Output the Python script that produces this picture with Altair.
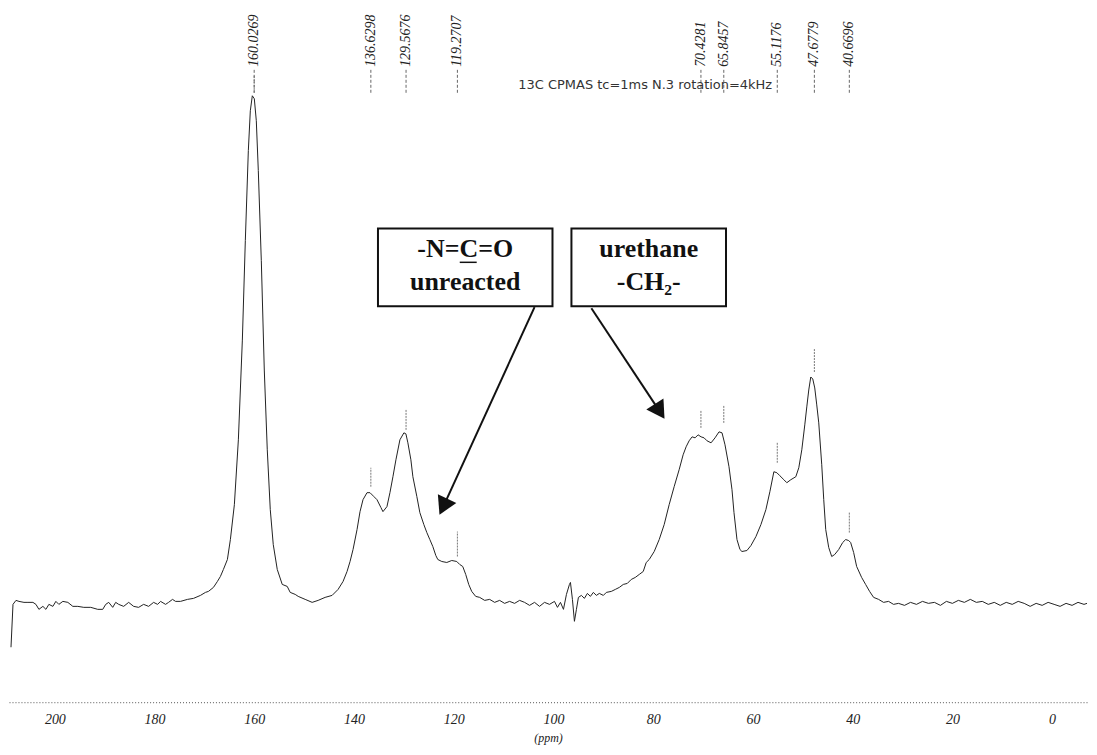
import altair as alt
import pandas as pd

# ---- spectrum trace (chemical shift in ppm, intensity in arbitrary units) ----
ppm = [208.8, 208.4, 207.8, 207.2, 206.2, 205.4, 204.4, 203.8, 203.2, 202.4, 201.8, 201.2, 200.4, 199.8, 199.2,
       198.4, 197.4, 196.4, 195.4, 194.2, 192.8, 191.4, 190.4, 189.8, 189.2, 188.4, 187.8, 187.2, 186.2, 185.2,
       184.2, 183.2, 182.2, 181.2, 180.2, 179.4, 178.8, 177.8, 177.2, 176.4, 175.8, 174.8, 173.4, 172.2, 170.8,
       169.8, 169.2, 168.2, 167.4, 166.8, 166.2, 165.4, 164.8, 164.0, 163.2, 162.4, 161.8, 161.2, 160.8, 160.4,
       160.0, 159.6, 159.2, 158.6, 158.0, 157.4, 156.8, 156.2, 155.4, 154.4, 153.4, 152.8, 151.8, 151.2, 149.8,
       148.4, 147.2, 145.8, 144.4, 143.2, 142.2, 141.4, 140.8, 140.2, 139.4, 138.8, 138.2, 137.4, 136.8, 136.0,
       135.4, 134.6, 134.2, 133.4, 132.8, 132.2, 131.6, 130.8, 130.0, 129.6, 129.2, 128.6, 128.2, 127.4, 126.8,
       126.0, 125.4, 124.8, 124.2, 123.6, 123.2, 122.4, 121.4, 120.4, 119.4, 118.8, 118.2, 117.6, 117.0, 116.4,
       115.6, 114.8, 113.8, 112.8, 111.8, 110.8, 109.8, 108.8, 107.8, 106.8, 105.8, 104.8, 103.8, 102.8, 101.8,
       100.8, 99.8, 99.2, 98.6, 98.0, 97.4, 96.8, 96.6, 96.2, 95.8, 95.4, 95.0, 94.4, 93.8, 93.2,
       92.6, 92.0, 91.4, 90.8, 90.0, 89.4, 88.4, 87.6, 86.8, 86.0, 85.2, 84.4, 83.6, 82.8, 82.0,
       81.4, 80.8, 79.8, 78.8, 77.8, 76.8, 75.8, 74.8, 74.0, 73.4, 72.8, 72.2, 71.6, 71.0, 70.4,
       69.8, 69.2, 68.4, 67.6, 66.8, 66.2, 65.6, 64.8, 64.2, 63.8, 63.2, 62.6, 62.2, 61.2, 60.4,
       59.4, 58.4, 57.4, 56.6, 55.8, 55.2, 54.6, 53.8, 53.2, 52.4, 51.4, 50.8, 50.2, 49.6, 49.2,
       48.8, 48.4, 48.0, 47.6, 47.2, 46.8, 46.2, 45.8, 45.4, 44.8, 44.2, 43.6, 42.8, 42.0, 41.4,
       40.8, 40.4, 39.8, 39.2, 38.2, 37.4, 36.6, 35.8, 34.8, 33.8, 32.8, 31.8, 30.8, 29.6, 28.4,
       27.2, 26.0, 24.8, 23.6, 22.4, 21.2, 20.0, 18.8, 17.6, 16.4, 15.2, 14.0, 12.8, 11.6, 10.4,
       9.2, 8.0, 6.8, 5.6, 4.4, 3.2, 2.0, 0.8, -0.4, -1.6, -2.8, -4.0, -5.2, -6.4, -7.0]
intensity = [-8.6, 0.0, 0.8, 0.6, 0.4, 0.4, 0.4, 0.0, -1.0, -0.4, -1.0, 0.0, -0.4, 0.6, 0.0,
             0.6, 0.4, -0.4, -0.4, -0.6, -0.6, -1.0, -1.0, 0.0, 0.4, -0.6, 0.4, 0.0, -0.4, 0.4,
             -0.4, -0.6, 0.0, -0.4, 0.4, 0.0, 0.6, 0.0, 0.4, 1.0, 0.6, 0.6, 1.0, 1.2, 1.8,
             2.4, 2.6, 3.4, 4.6, 5.6, 7.0, 9.0, 13.0, 20.0, 33.0, 53.0, 73.0, 91.0, 99.0, 102.0,
             101.4, 97.0, 87.0, 69.0, 47.0, 31.0, 19.0, 12.0, 7.0, 4.0, 3.6, 2.4, 2.0, 1.6, 1.0,
             0.4, 0.8, 1.4, 1.8, 3.0, 4.6, 6.6, 8.6, 11.0, 15.0, 18.6, 21.0, 22.4, 22.4, 21.6,
             21.0, 19.4, 18.6, 19.6, 22.4, 25.6, 29.0, 33.0, 34.4, 34.2, 32.4, 29.0, 25.6, 21.6, 18.4,
             16.0, 14.4, 13.0, 11.6, 9.8, 9.0, 8.6, 8.4, 8.8, 8.6, 8.0, 7.6, 6.0, 4.0, 2.6,
             1.6, 1.4, 0.8, 1.0, 0.4, 0.8, 0.2, 0.6, 0.2, 0.8, 0.4, -0.2, 0.4, -0.4, 0.4,
             0.0, 0.6, -0.6, 0.4, -1.0, 2.0, 4.0, 4.4, 1.0, -3.4, -1.0, 1.4, 1.8, 1.2, 2.2,
             1.6, 2.4, 1.8, 2.2, 1.8, 2.4, 2.6, 3.0, 3.4, 4.0, 4.2, 5.0, 5.4, 6.0, 6.6,
             8.4, 9.0, 10.6, 13.0, 16.0, 20.0, 23.6, 27.0, 30.0, 31.6, 32.8, 33.6, 33.4, 34.0, 33.6,
             33.4, 32.8, 32.4, 33.4, 34.6, 34.4, 32.0, 27.6, 23.0, 18.4, 13.0, 11.0, 10.6, 10.8, 11.8,
             13.6, 16.0, 19.0, 22.6, 26.6, 26.4, 25.8, 25.0, 24.4, 25.0, 25.6, 27.4, 31.0, 36.0, 39.6,
             43.0, 45.6, 45.2, 43.4, 40.0, 36.4, 28.0, 21.0, 15.0, 11.4, 9.6, 10.0, 11.0, 12.4, 13.0,
             12.8, 12.4, 10.4, 7.6, 5.4, 4.0, 2.6, 1.4, 1.0, 0.4, 0.6, 0.0, 0.2, -0.2, 0.4,
             0.0, 0.6, 0.2, 0.4, -0.2, 0.6, 0.2, 0.8, 0.4, 1.0, 0.4, 0.6, 0.0, 0.4, -0.2,
             0.4, 0.0, 0.6, 0.2, -0.4, 0.2, -0.2, 0.4, 0.0, -0.4, 0.2, -0.2, 0.4, 0.0, 0.2]

# ---- picked peaks ----
peak_labels = ["160.0269", "136.6298", "129.5676", "119.2707", "70.4281", "65.8457", "55.1176", "47.6779", "40.6696"]
peak_ppm = [160.0269, 136.6298, 129.5676, 119.2707, 70.4281, 65.8457, 55.1176, 47.6779, 40.6696]
marker_lo = [102.6, 23.6, 35.0, 9.6, 35.4, 36.4, 28.4, 46.6, 14.4]
marker_hi = [106.0, 27.4, 39.0, 14.6, 39.0, 40.0, 32.4, 51.4, 18.6]
label_level = [107.8] * 9
leader_lo = [102.6] * 9
leader_hi = [107.4] * 9

# ---- annotations ----
box_x1 = [135.2, 96.4]
box_x2 = [100.2, 65.4]
box_y1 = [59.8, 59.8]
box_y2 = [75.4, 75.4]
box_cx = [117.7, 80.9]
box_line1 = ["-N=C=O", "urethane"]
box_line2 = ["unreacted", "-CH\u2082-"]
line1_y = [71.2, 71.2]
line2_y = [64.6, 64.6]
underline_x = [118.8]
underline_x2 = [115.4]
underline_y = [68.6]

arrow_x1 = [103.8, 92.4]
arrow_y1 = [59.6, 59.4]
arrow_x2 = [122.1, 78.7]
arrow_y2 = [19.6, 38.7]
arrow_angle = [205.5, 147.0]

note_text = ["13C CPMAS tc=1ms N.3 rotation=4kHz"]
note_x = [81.6]
note_y = [104.2]

x_ticks = [200, 180, 160, 140, 120, 100, 80, 60, 40, 20, 0]

# ---- tables ----
spec = pd.DataFrame({"ppm": ppm, "intensity": intensity, "idx": range(len(ppm))})
peaks = pd.DataFrame({"label": peak_labels, "ppm": peak_ppm, "lo": marker_lo, "hi": marker_hi,
                      "ly": label_level, "llo": leader_lo, "lhi": leader_hi})
boxes = pd.DataFrame({"x1": box_x1, "x2": box_x2, "y1": box_y1, "y2": box_y2, "cx": box_cx,
                      "t1": box_line1, "t2": box_line2, "ty1": line1_y, "ty2": line2_y})
under = pd.DataFrame({"x1": underline_x, "x2": underline_x2, "y": underline_y})
arrows = pd.DataFrame({"x1": arrow_x1, "y1": arrow_y1, "x2": arrow_x2, "y2": arrow_y2, "ang": arrow_angle})
note = pd.DataFrame({"t": note_text, "x": note_x, "y": note_y})

xscale = alt.Scale(domain=[-7.0, 209.2], reverse=True, nice=False, zero=False)
yscale = alt.Scale(domain=[-19.6, 119.4], nice=False, zero=False)

xaxis = alt.Axis(values=x_ticks, format="d", title="(ppm)", grid=False, ticks=False,
                 domainDash=[1, 2], domainColor="#777", domainWidth=1.2,
                 labelFont="Liberation Serif", labelFontStyle="italic", labelFontSize=14,
                 labelColor="#222", labelPadding=10,
                 titleFont="Liberation Serif", titleFontStyle="italic", titleFontWeight="normal",
                 titleFontSize=12, titleColor="#222", titlePadding=7)


def X(field):
    return alt.X(field, scale=xscale, axis=xaxis, title="(ppm)")


def Y(field):
    return alt.Y(field, scale=yscale, axis=None)


spectrum = alt.Chart(spec).mark_line(color="#222", strokeWidth=1).encode(
    x=X("ppm:Q"), y=Y("intensity:Q"), order="idx:Q")

labels = alt.Chart(peaks).mark_text(angle=270, align="left", baseline="middle",
                                    font="Liberation Serif", fontStyle="italic",
                                    fontSize=14, color="#222").encode(
    x=X("ppm:Q"), y=Y("ly:Q"), text="label:N")

leaders = alt.Chart(peaks).mark_rule(color="#666", strokeWidth=1, strokeDash=[3, 2]).encode(
    x=X("ppm:Q"), y=Y("llo:Q"), y2="lhi:Q")

markers = alt.Chart(peaks).mark_rule(color="#777", strokeWidth=1, strokeDash=[2, 1]).encode(
    x=X("ppm:Q"), y=Y("lo:Q"), y2="hi:Q")

note_layer = alt.Chart(note).mark_text(font="DejaVu Sans", fontSize=13, color="#333",
                                       align="center", baseline="middle").encode(
    x=X("x:Q"), y=Y("y:Q"), text="t:N")

arrow_lines = alt.Chart(arrows).mark_rule(color="#111", strokeWidth=2).encode(
    x=X("x1:Q"), x2="x2:Q", y=Y("y1:Q"), y2="y2:Q")

arrow_heads = alt.Chart(arrows).mark_point(shape="triangle-up", filled=True, color="#111",
                                           size=420, opacity=1).encode(
    x=X("x2:Q"), y=Y("y2:Q"), angle=alt.Angle("ang:Q", scale=None))

box_rects = alt.Chart(boxes).mark_rect(fill="white", stroke="#111", strokeWidth=2).encode(
    x=X("x1:Q"), x2="x2:Q", y=Y("y1:Q"), y2="y2:Q")

box_t1 = alt.Chart(boxes).mark_text(font="Liberation Serif", fontWeight="bold", fontSize=26,
                                    color="#111", baseline="middle").encode(
    x=X("cx:Q"), y=Y("ty1:Q"), text="t1:N")

box_t2 = alt.Chart(boxes).mark_text(font="Liberation Serif", fontWeight="bold", fontSize=26,
                                    color="#111", baseline="middle").encode(
    x=X("cx:Q"), y=Y("ty2:Q"), text="t2:N")

underline = alt.Chart(under).mark_rule(color="#111", strokeWidth=1.5).encode(
    x=X("x1:Q"), x2="x2:Q", y=Y("y:Q"))

chart = alt.layer(spectrum, markers, leaders, labels, note_layer, arrow_lines, arrow_heads,
                  box_rects, box_t1, box_t2, underline).properties(
    width=1081, height=695, padding=0, background="white"
).configure_view(stroke=None)

chart.save("out.html", embed_options={"renderer": "svg", "actions": False})
